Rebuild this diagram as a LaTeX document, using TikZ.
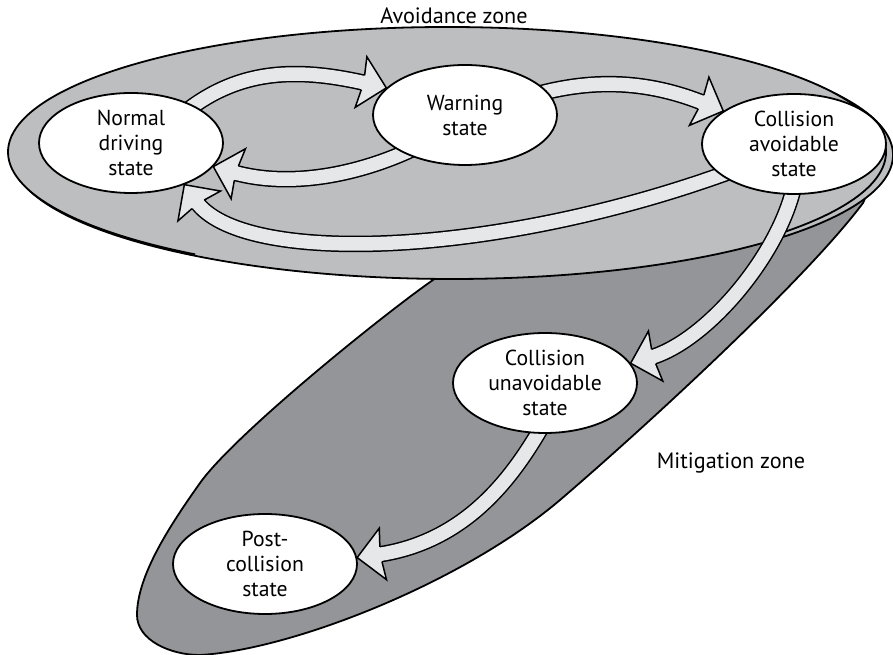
\documentclass[tikz,border=0pt]{standalone}
\usepackage{fontspec}
\setmainfont{PT Sans}
\usetikzlibrary{shapes.geometric,calc}
\definecolor{avoidgray}{RGB}{188,190,192}
\definecolor{mitiggray}{RGB}{147,149,152}
\definecolor{arrowgray}{RGB}{230,231,232}
\pgfdeclarelayer{zoneslayer}
\pgfdeclarelayer{arrowlayer}
\pgfsetlayers{zoneslayer,arrowlayer,main}
\newcommand\blockhead[2]{\filldraw[headstyle, shift={(#1)}, rotate=#2] (-24,7.5) -- (-26,26) -- (0,0) -- (-26,-26) -- (-24,-7.5);}
\begin{document}
\begin{tikzpicture}[x=1pt,y=1pt,
  statenode/.style={ellipse, draw=black, line width=1.8pt, fill=white, minimum width=184pt, minimum height=100pt, inner sep=0pt, align=center, font=\fontsize{21.7}{25}\selectfont},
  zonelabel/.style={font=\fontsize{22.2}{25}\selectfont, inner sep=0pt},
  zoneline/.style={draw=black, line width=1.8pt},
  band/.style={draw=black, line width=1.5pt, double=arrowgray, double distance=13.5pt},
  headstyle/.style={fill=arrowgray, draw=black, line width=1.5pt, line join=miter}]
\useasboundingbox (0,0) rectangle (893,655);

\begin{pgfonlayer}{zoneslayer}
% mitigation zone
\filldraw[zoneline, fill=mitiggray]
  (137,40) .. controls (137,15) and (170,0) .. (200,0)
  .. controls (290,5) and (461,71) .. (560,155)
  .. controls (636,220) and (803,372) .. (863,452)
  .. controls (891,505) and (679,546) .. (433,375)
  .. controls (384,341) and (235,221) .. (200,172)
  .. controls (171,131) and (137,80) .. (137,40) -- cycle;
% avoidance zone: rim, then top surface
\filldraw[zoneline, fill=avoidgray] (452,500) ellipse [x radius=441, y radius=124];
\fill[avoidgray] (447,503) ellipse [x radius=439, y radius=125];
\draw[zoneline] ([shift={(-41:439 and 125)}]447,503) arc[start angle=-41, end angle=235, x radius=439, y radius=125];
\end{pgfonlayer}

\node[statenode] (normal) at (131,512) {Normal\\driving\\state};
\node[statenode] (warn) at (465,540) {Warning\\state};
\node[statenode] (cavoid) at (794,511) {Collision\\avoidable\\state};
\node[statenode] (cunav) at (545,272) {Collision\\unavoidable\\state};
\node[statenode] (post) at (265,91) {Post-\\collision\\state};

\node[zonelabel] (avoidlabel) at (454,639) {Avoidance zone};
\node[zonelabel] (mitiglabel) at (731,192) {Mitigation zone};

\begin{pgfonlayer}{arrowlayer}
% normal -> warning
\coordinate (t1) at (warn.161);
\coordinate (b1) at ($(t1)+(167:20)$);
\draw[band] ($(normal.31)+(218:10)$) to[out=38,in=167,out distance=70pt,in distance=70pt] (b1);
\blockhead{t1}{-13}
% warning -> collision avoidable
\coordinate (t2) at (cavoid.155);
\coordinate (b2) at ($(t2)+(158:20)$);
\draw[band] ($(warn.16)+(195:10)$) to[out=15,in=158,out distance=60pt,in distance=60pt] (b2);
\blockhead{t2}{-22}
% warning -> normal
\coordinate (t3) at (normal.344);
\coordinate (b3) at ($(t3)+(344:20)$);
\draw[band] ($(warn.212)+(25:10)$) to[out=205,in=344,out distance=60pt,in distance=60pt] (b3);
\blockhead{t3}{164}
% collision avoidable -> normal
\coordinate (t4) at (normal.322);
\coordinate (b4) at ($(t4)+(305:20)$);
\draw[band] ($(cavoid.203)+(20:10)$) to[out=200,in=305,out distance=250pt,in distance=80pt] (b4);
\blockhead{t4}{125}
% collision avoidable -> collision unavoidable
\coordinate (t5) at (cunav.13);
\coordinate (b5) at ($(t5)+(16:20)$);
\draw[band] ($(cavoid.268)+(78:10)$) to[out=258,in=16,out distance=70pt,in distance=60pt] (b5);
\blockhead{t5}{196}
% collision unavoidable -> post-collision
\coordinate (t6) at (post.4);
\coordinate (b6) at ($(t6)+(8:20)$);
\draw[band] ($(cunav.262)+(60:10)$) to[out=240,in=8,out distance=60pt,in distance=90pt] (b6);
\blockhead{t6}{188}
\end{pgfonlayer}
\end{tikzpicture}
\end{document}
